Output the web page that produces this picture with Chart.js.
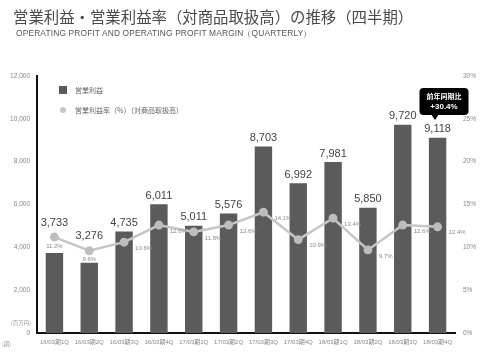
<!DOCTYPE html>
<html>
<head>
<meta charset="utf-8">
<script src="https://cdn.jsdelivr.net/npm/chart.js@4.4.0/dist/chart.umd.min.js"></script>
<style>
body { margin: 0; background: #fff; }
#wrap { position: relative; width: 490px; height: 354px; }
#title { position: absolute; left: 13px; top: 5px; font: 15.4px "Noto Sans CJK JP"; color: #4a4a4a; white-space: nowrap; }
#sub { position: absolute; left: 16px; top: 28px; font: 8.4px "Liberation Sans"; letter-spacing: 0.15px; color: #555; white-space: nowrap; }
canvas { position: absolute; left: 0; top: 0; }
</style>
</head>
<body>
<div id="wrap">
<canvas id="c" width="490" height="354"></canvas>
<div id="title">営業利益・営業利益率（対商品取扱高）の推移（四半期）</div>
<div id="sub">OPERATING PROFIT AND OPERATING PROFIT MARGIN（QUARTERLY）</div>
</div>

<script>
var quarters = ["16/03期1Q","16/03期2Q","16/03期3Q","16/03期4Q","17/03期1Q","17/03期2Q","17/03期3Q","17/03期4Q","18/03期1Q","18/03期2Q","18/03期3Q","18/03期4Q"];
var profit = [3733, 3276, 4735, 6011, 5011, 5576, 8703, 6992, 7981, 5850, 9720, 9118];
var margin = [11.2, 9.6, 10.6, 12.6, 11.8, 12.6, 14.1, 10.9, 13.4, 9.7, 12.6, 12.4];
var legendNames = ["営業利益", "営業利益率（%）（対商品取扱高）"];
var callout = ["前年同期比", "+30.4%"];

var barColor = "#5b5b5b";
var lineColor = "#c6c6c6";

// labels, legend and the yoy callout
var extras = {
  id: "extras",
  afterDatasetsDraw: function(chart) {
    var ctx = chart.ctx;
    var bars = chart.getDatasetMeta(1).data;
    var pts = chart.getDatasetMeta(0).data;
    ctx.save();
    for (var i = 0; i < bars.length; i++) {
      var b = bars[i], p = pts[i];
      ctx.fillStyle = "#444";
      ctx.font = "11px 'Liberation Sans'";
      ctx.textAlign = "center";
      ctx.textBaseline = "bottom";
      var y = Math.min(b.y - 3, p.y - 9);
      ctx.fillText(profit[i].toLocaleString("en-US"), b.x, y);

      ctx.font = "6px 'Liberation Sans'";
      ctx.fillStyle = "#8a8a8a";
      if (p.y < b.y) {
        ctx.textAlign = "center";
        ctx.textBaseline = "top";
        ctx.fillText(margin[i].toFixed(1) + "%", p.x, p.y + 6);
      } else {
        ctx.textAlign = "left";
        ctx.textBaseline = "middle";
        ctx.fillText(margin[i].toFixed(1) + "%", p.x + 11, p.y + 6);
      }
    }

    // legend
    ctx.fillStyle = barColor;
    ctx.fillRect(59, 86, 8, 8);
    ctx.fillStyle = lineColor;
    ctx.beginPath();
    ctx.arc(63, 110, 3, 0, Math.PI * 2);
    ctx.fill();
    ctx.fillStyle = "#666";
    ctx.font = "7px 'Noto Sans CJK JP'";
    ctx.textAlign = "left";
    ctx.textBaseline = "middle";
    ctx.fillText(legendNames[0], 75, 90);
    ctx.fillText(legendNames[1], 75, 110);

    // callout
    var cx = 444, top = 88, w = 49, h = 27;
    ctx.fillStyle = "#000";
    ctx.beginPath();
    ctx.roundRect(cx - w / 2, top, w, h, 4);
    ctx.fill();
    ctx.beginPath();
    ctx.moveTo(431, top + h - 1);
    ctx.lineTo(435, top + h + 5);
    ctx.lineTo(439, top + h - 1);
    ctx.fill();
    ctx.fillStyle = "#fff";
    ctx.textAlign = "center";
    ctx.font = "bold 7px 'Noto Sans CJK JP'";
    ctx.fillText(callout[0], cx, top + 8);
    ctx.font = "bold 8px 'Liberation Sans'";
    ctx.fillText(callout[1], cx, top + 19);

    // unit labels
    ctx.fillStyle = "#999";
    ctx.font = "5.5px 'Noto Sans CJK JP'";
    ctx.textAlign = "right";
    ctx.fillText("(百万円)", 31, 323);
    ctx.textAlign = "left";
    ctx.fillText("(期)", 2, 344);
    ctx.restore();
  }
};

new Chart("c", {
  data: {
    labels: quarters,
    datasets: [{
      type: "line",
      data: margin,
      yAxisID: "y2",
      borderColor: lineColor,
      borderWidth: 2.5,
      pointRadius: 3.2,
      pointBackgroundColor: "#bdbdbd",
      pointBorderColor: "#bdbdbd",
      tension: 0,
      order: 0
    }, {
      type: "bar",
      data: profit,
      yAxisID: "y",
      backgroundColor: barColor,
      categoryPercentage: 1,
      barPercentage: 0.5,
      order: 1
    }]
  },
  options: {
    responsive: false,
    animation: false,
    layout: { padding: { top: 76, left: 0, right: 0, bottom: 0 } },
    plugins: { legend: { display: false }, tooltip: { enabled: false } },
    scales: {
      x: {
        grid: { display: false, drawTicks: false },
        border: { color: "#111", width: 2 },
        ticks: { color: "#888", font: { size: 6, family: "'Liberation Sans', 'Noto Sans CJK JP'" }, padding: 6, maxRotation: 0, autoSkip: false },
        afterFit: function(s) { s.height = 21; }
      },
      y: {
        position: "left",
        min: 0, max: 12000,
        ticks: { stepSize: 2000, color: "#888", font: { size: 6.5, family: "Liberation Sans" }, padding: 7,
          callback: function(v) { return v.toLocaleString("en-US"); } },
        grid: { display: false, drawTicks: false },
        border: { color: "#111", width: 2 },
        afterFit: function(s) { s.width = 37; }
      },
      y2: {
        position: "right",
        min: 0, max: 30,
        ticks: { stepSize: 5, color: "#888", font: { size: 6.5, family: "Liberation Sans" }, padding: 8,
          callback: function(v) { return v + "%"; } },
        grid: { display: false, drawTicks: false },
        border: { display: false },
        afterFit: function(s) { s.width = 35; }
      }
    }
  },
  plugins: [extras]
});
</script>
</body>
</html>
